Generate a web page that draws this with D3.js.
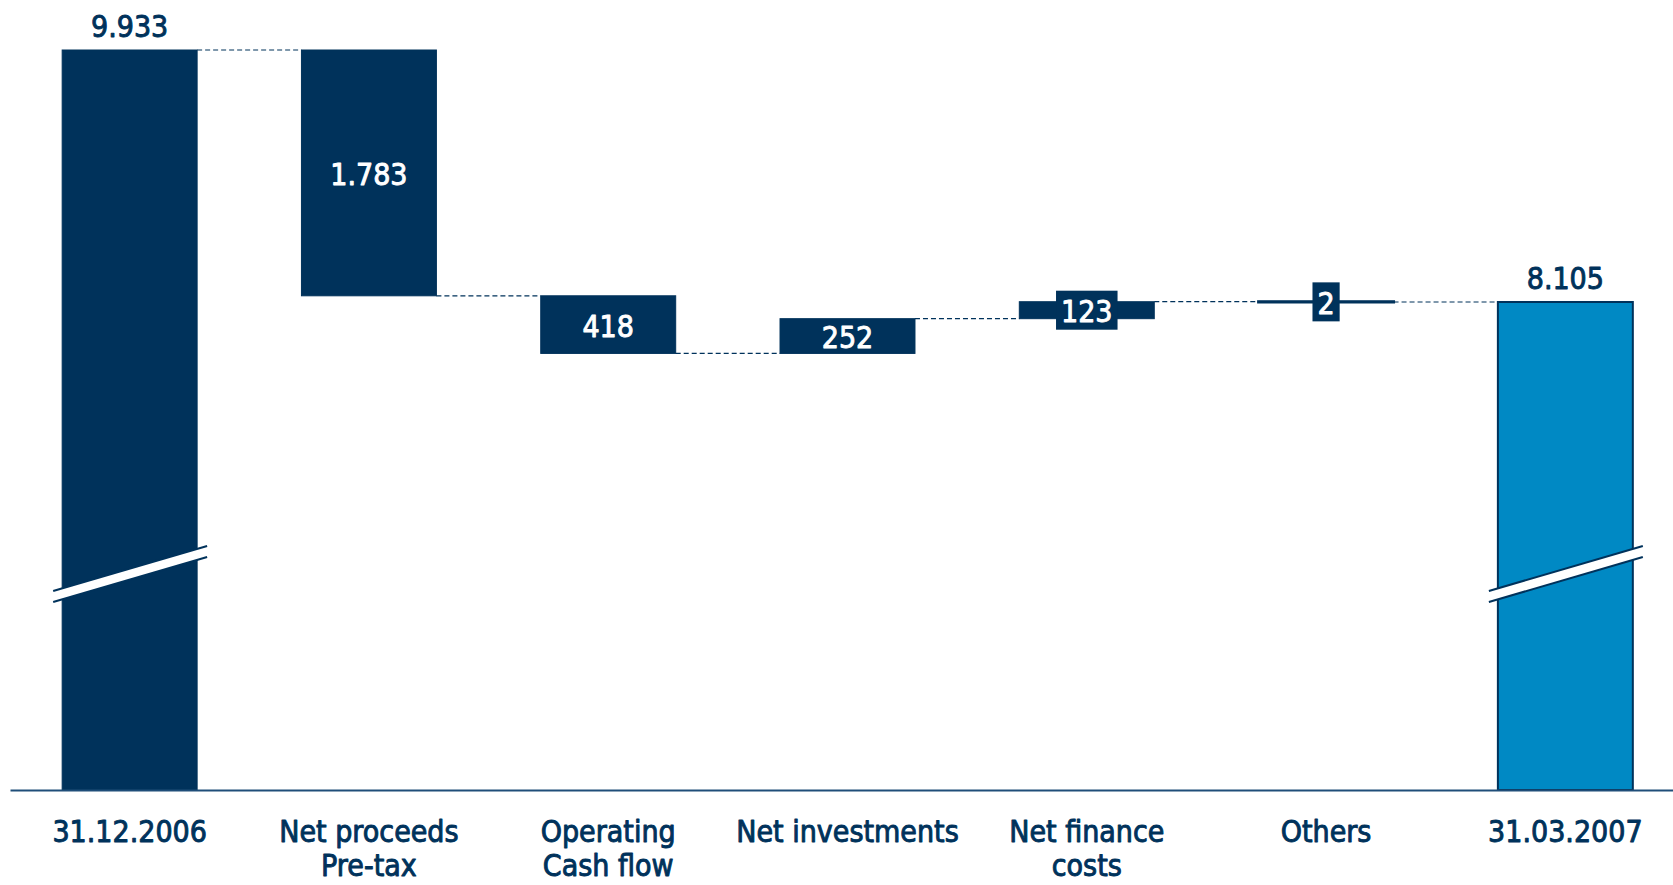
<!DOCTYPE html>
<html>
<head>
<meta charset="utf-8">
<script src="https://cdn.jsdelivr.net/npm/d3@7"></script>
<style>
  body { margin: 0; background: #fff; }
  text { font-family: "DejaVu Sans Condensed", "DejaVu Sans", sans-serif; font-stretch: condensed; paint-order: stroke; stroke-width: 0.9px; stroke-linejoin: round; }
</style>
</head>
<body>
<svg id="chart" width="1673" height="885"></svg>
<script>
const categories = [
  ["31.12.2006"],
  ["Net proceeds", "Pre-tax"],
  ["Operating", "Cash flow"],
  ["Net investments"],
  ["Net finance", "costs"],
  ["Others"],
  ["31.03.2007"]
];
const kinds = ["total", "delta", "delta", "delta", "delta", "delta", "total"];
const values = [9933, -1783, -418, 252, 123, -2, 8105];
const valueLabels = ["9.933", "1.783", "418", "252", "123", "2", "8.105"];

const navy = "#00325b";
const lightBlue = "#0089c4";

const svg = d3.select("#chart");
const baseY = 790;

const xScale = d3.scaleBand()
  .domain(d3.range(categories.length))
  .range([10, 1685])
  .paddingInner(0.436)
  .paddingOuter(0.218);

// axis is broken, so the bottom is not zero
const yScale = d3.scaleLinear().domain([4565, 9933]).range([baseY, 50]);

// waterfall steps
let running = 0;
const steps = values.map((v, i) => {
  let start, end;
  if (kinds[i] === "total") {
    start = yScale.domain()[0];
    end = v;
    running = v;
  } else {
    start = running;
    end = running + v;
    running = end;
  }
  return { i, v, start, end, kind: kinds[i], label: valueLabels[i] };
});

const g = svg.append("g");

// dashed connectors
steps.slice(0, -1).forEach(d => {
  g.append("line")
    .attr("x1", xScale(d.i) + xScale.bandwidth())
    .attr("x2", xScale(d.i + 1))
    .attr("y1", yScale(d.end))
    .attr("y2", yScale(d.end))
    .attr("stroke", navy)
    .attr("stroke-width", 1.2)
    .attr("stroke-dasharray", "5,3");
});

// bars
g.selectAll("rect.bar")
  .data(steps)
  .enter()
  .append("rect")
  .attr("class", "bar")
  .attr("x", d => xScale(d.i))
  .attr("width", xScale.bandwidth())
  .attr("y", d => yScale(Math.max(d.start, d.end)))
  .attr("height", d => Math.abs(yScale(d.start) - yScale(d.end)))
  .attr("fill", d => d.i === steps.length - 1 ? lightBlue : navy)
  .attr("stroke", navy)
  .attr("stroke-width", d => Math.abs(d.v) < 10 ? 3 : (d.i === steps.length - 1 ? 2 : 1));

// axis break marks on the total bars
steps.filter(d => d.kind === "total").forEach(d => {
  const x0 = xScale(d.i) - 9;
  const x1 = xScale(d.i) + xScale.bandwidth() + 10;
  const yl = 591, yr = 546, th = 11;
  g.append("polygon")
    .attr("points", [[x0, yl], [x1, yr], [x1, yr + th], [x0, yl + th]].join(" "))
    .attr("fill", "#fff");
  [0, th].forEach(off => {
    g.append("line")
      .attr("x1", x0).attr("y1", yl + off)
      .attr("x2", x1).attr("y2", yr + off)
      .attr("stroke", navy)
      .attr("stroke-width", 2);
  });
});

// value labels
steps.forEach(d => {
  const cx = xScale(d.i) + xScale.bandwidth() / 2;
  if (d.kind === "total") {
    g.append("text")
      .attr("x", cx)
      .attr("y", yScale(d.end) - 13)
      .attr("text-anchor", "middle")
      .attr("font-size", 30)
      .attr("fill", navy)
      .attr("stroke", navy)
      .text(d.label);
  } else {
    const yTop = yScale(Math.max(d.start, d.end));
    const yBot = yScale(Math.min(d.start, d.end));
    const mid = (yTop + yBot) / 2;
    const t = g.append("text")
      .attr("x", cx)
      .attr("y", mid + 12)
      .attr("text-anchor", "middle")
      .attr("font-size", 30)
      .attr("fill", "#fff")
      .attr("stroke", "#fff")
      .text(d.label);
    if (yBot - yTop < 30) {
      const w = t.node().getComputedTextLength() + 10;
      g.insert("rect", () => t.node())
        .attr("x", cx - w / 2)
        .attr("y", mid - 19.5)
        .attr("width", w)
        .attr("height", 39)
        .attr("fill", navy);
    }
  }
});

// x axis
const axis = svg.append("g")
  .attr("transform", `translate(0,${baseY})`)
  .call(d3.axisBottom(xScale).tickSize(0).tickSizeOuter(0).tickFormat(""));
axis.select(".domain").attr("stroke", "#1f4e79").attr("stroke-width", 2);

axis.selectAll(".tick").each(function (i) {
  const t = d3.select(this).append("text")
    .attr("text-anchor", "middle")
    .attr("font-size", 30)
    .attr("fill", navy)
    .attr("stroke", navy);
  categories[i].forEach((line, k) => {
    t.append("tspan")
      .attr("x", 0)
      .attr("y", 52 + k * 34)
      .text(line);
  });
});
</script>
</body>
</html>
